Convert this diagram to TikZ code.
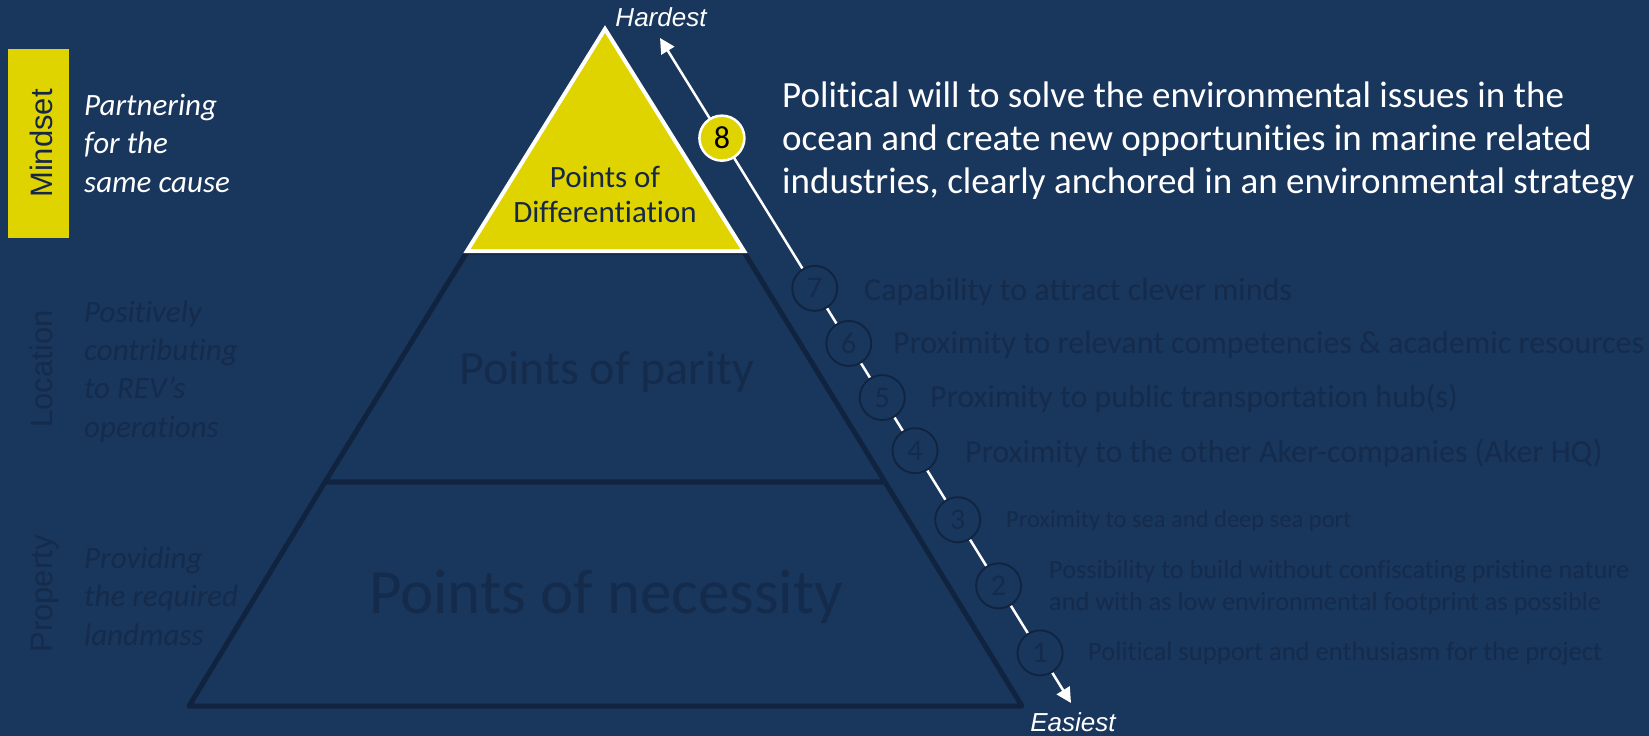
\documentclass[tikz,border=0pt]{standalone}
\usepackage{fontspec}
\setmainfont{Carlito}[Ligatures={NoCommon}]
\newfontfamily\arialf{Liberation Sans}
\usetikzlibrary{arrows.meta,calc}
\definecolor{bg}{RGB}{25,54,93}
\definecolor{faded}{RGB}{20,43,76}
\definecolor{pline}{RGB}{16,36,64}
\definecolor{ylw}{RGB}{224,212,0}
\definecolor{navytxt}{RGB}{22,40,72}
\begin{document}
\begin{tikzpicture}[x=1pt,y=-1pt,
  sidelabel/.style={rotate=90,anchor=base,inner sep=0pt,font=\arialf\fontsize{31}{36}\selectfont},
  desc/.style={anchor=base west,inner sep=0pt,align=left,font=\itshape\fontsize{31}{38.3}\selectfont},
  numcirc/.style={circle,draw=pline,line width=1.8pt,fill=bg,minimum size=45pt,inner sep=0pt,text=faded,font=\fontsize{30}{36}\selectfont},
  itembig/.style={anchor=base west,inner sep=0pt,text=faded,font=\fontsize{32}{38}\selectfont},
  itemsmall/.style={anchor=base west,inner sep=0pt,align=left,text=faded},
  tier/.style={draw=pline,line width=5pt,line join=round,fill=bg},
  endlabel/.style={anchor=base,inner sep=0pt,text=white,font=\arialf\itshape\fontsize{26}{30}\selectfont},
  arrowline/.style={draw=white,line width=2.5pt,{Triangle[length=15pt,width=15pt]}-{Triangle[length=15pt,width=15pt]}}
]
\fill[bg] (0,0) rectangle (1649,736);
\useasboundingbox (0,0) rectangle (1649,736);

% left column
\node[fill=ylw,minimum width=61pt,minimum height=189pt,inner sep=0pt,anchor=north west] (mbox) at (8,49) {};
\node[sidelabel,text=navytxt] (mind) at (52,143.5) {Mindset};
\node[sidelabel,text=faded] (loc) at (52,369) {Location};
\node[sidelabel,text=faded] (prop) at (52,594) {Property};

% (base anchor of a multi-line node = baseline of its last line)
\node[desc,text=white] (d1) at (84,192) {Partnering\\for the\\same cause};
\node[desc,text=faded] (d2) at (84,437) {Positively\\contributing\\to REV’s\\operations};
\node[desc,text=faded] (d3) at (84,645) {Providing\\the required\\landmass};

% pyramid
\path[tier] (467,252) -- (744,252) -- (885,482) -- (325,482) -- cycle;
\path[tier] (325,482) -- (885,482) -- (1022,706) -- (189,706) -- cycle;
\path[draw=white,line width=4pt,fill=ylw,line join=miter] (605,29) -- (744,251) -- (467,251) -- cycle;

\node[anchor=base,inner sep=0pt,text=navytxt,align=center,font=\fontsize{31}{35}\selectfont] (pod) at (605,222) {Points of\\Differentiation};
\node[anchor=base,inner sep=0pt,text=faded,font=\fontsize{48}{56}\selectfont] (pop) at (607,384) {Points of parity};
\node[anchor=base,inner sep=0pt,text=faded,font=\fontsize{63}{72}\selectfont] (pon) at (606,613) {Points of necessity};

% arrow
\coordinate (top) at (660,38);
\coordinate (bot) at (1071,703);
\path[arrowline] (top) -- (bot);
\node[endlabel] (hard) at (661,27) {Hardest};
\node[endlabel] (easy) at (1073,731) {Easiest};

% circles
\node[numcirc,fill=ylw,draw=white,line width=2.5pt,text=black,font=\fontsize{32}{36}\selectfont] (c8) at ($(top)!0.1506!(bot)$) {8};
\node[numcirc] (c7) at ($(top)!0.3765!(bot)$) {7};
\node[numcirc] (c6) at ($(top)!0.4593!(bot)$) {6};
\node[numcirc] (c5) at ($(top)!0.5407!(bot)$) {5};
\node[numcirc] (c4) at ($(top)!0.6205!(bot)$) {4};
\node[numcirc] (c3) at ($(top)!0.7244!(bot)$) {3};
\node[numcirc] (c2) at ($(top)!0.8238!(bot)$) {2};
\node[numcirc] (c1) at ($(top)!0.9247!(bot)$) {1};

% texts
\node[anchor=base west,inner sep=0pt,text=white,align=left,font=\fontsize{37}{43}\selectfont] (will) at (782,193) {Political will to solve the environmental issues in the\\ocean and create new opportunities in marine related\\industries, clearly anchored in an environmental strategy};
\node[itembig] (t7) at (864,300) {Capability to attract clever minds};
\node[itembig] (t6) at (893,353) {Proximity to relevant competencies \& academic resources};
\node[itembig] (t5) at (930,407) {Proximity to public transportation hub(s)};
\node[itembig] (t4) at (965,462) {Proximity to the other Aker-companies (Aker HQ)};
\node[itemsmall,font=\fontsize{24.5}{30}\selectfont] (t3) at (1006,527) {Proximity to sea and deep sea port};
\node[itemsmall,font=\fontsize{26.3}{32}\selectfont] (t2) at (1049,610) {Possibility to build without confiscating pristine nature\\and with as low environmental footprint as possible};
\node[itemsmall,font=\fontsize{26.6}{32}\selectfont] (t1) at (1088,660) {Political support and enthusiasm for the project};
\end{tikzpicture}
\end{document}
